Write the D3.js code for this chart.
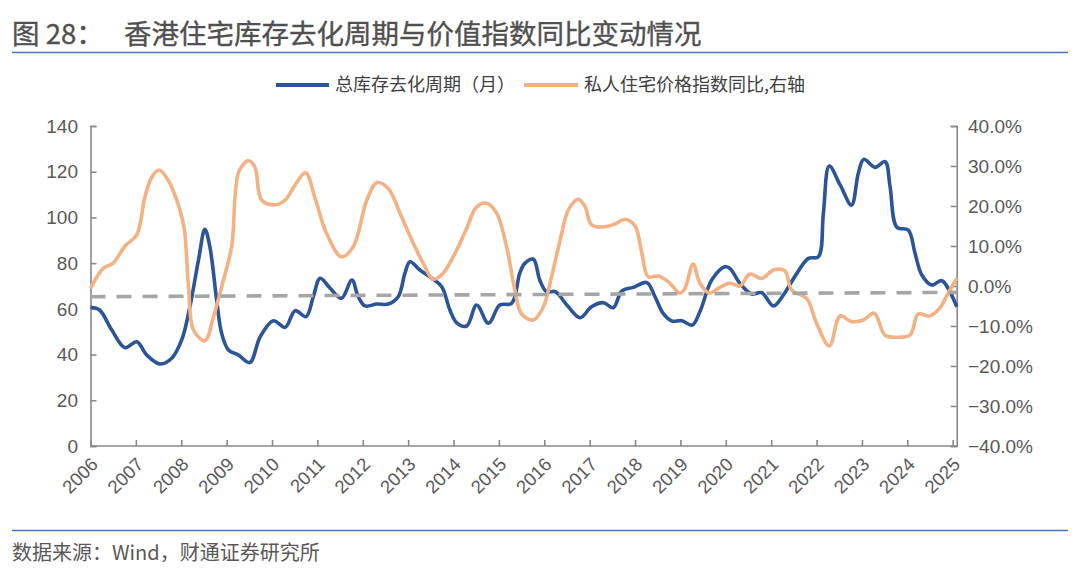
<!DOCTYPE html>
<html>
<head>
<meta charset="utf-8">
<script src="https://cdn.jsdelivr.net/npm/d3@7"></script>
<style>
  body { margin: 0; background: #fff; }
  text { font-family: "Liberation Sans", "Noto Sans CJK SC", sans-serif; }
  .cjk { font-family: "Noto Sans CJK SC", "Liberation Sans", sans-serif; }
</style>
</head>
<body>
<div id="chart"></div>
<script>
// total inventory clearance cycle (months), left axis
var blueYear = [2006.0, 2006.2, 2006.47, 2006.76, 2007.02, 2007.24, 2007.53, 2007.79, 2008.01, 2008.19,
  2008.38, 2008.52, 2008.63, 2008.78, 2008.89, 2009.04, 2009.26, 2009.51, 2009.74, 2010.03,
  2010.29, 2010.51, 2010.75, 2010.91, 2011.06, 2011.28, 2011.53, 2011.76, 2011.9, 2012.05,
  2012.31, 2012.56, 2012.78, 2012.93, 2013.04, 2013.26, 2013.52, 2013.74, 2013.92, 2014.07,
  2014.29, 2014.51, 2014.77, 2015.02, 2015.28, 2015.46, 2015.57, 2015.76, 2015.9, 2016.05,
  2016.24, 2016.53, 2016.79, 2017.04, 2017.3, 2017.52, 2017.71, 2017.96, 2018.26, 2018.44,
  2018.62, 2018.81, 2019.03, 2019.26, 2019.43, 2019.69, 2019.98, 2020.09, 2020.31, 2020.57,
  2020.79, 2021.05, 2021.27, 2021.52, 2021.82, 2022.04, 2022.15, 2022.28, 2022.52, 2022.77,
  2022.92, 2023.04, 2023.29, 2023.51, 2023.62, 2023.77, 2024.02, 2024.17, 2024.32, 2024.54,
  2024.76, 2025.09];
var blueValue = [60.7, 59.5, 50.7, 43.0, 45.6, 39.8, 35.9, 38.4, 46.4, 60.9,
  81.4, 94.8, 87.2, 63.9, 49.3, 42.0, 39.8, 36.5, 47.8, 54.8,
  51.9, 59.2, 56.6, 65.3, 73.4, 69.0, 64.6, 72.6, 65.3, 61.3,
  62.1, 62.1, 65.3, 75.6, 80.6, 77.0, 73.4, 69.7, 59.5, 53.9,
  52.5, 61.7, 53.7, 61.7, 62.4, 75.6, 79.9, 81.7, 72.6, 67.5,
  67.5, 60.9, 56.1, 60.9, 62.7, 60.5, 67.9, 69.4, 71.5, 65.3,
  58.0, 54.7, 54.8, 52.9, 58.8, 72.6, 78.4, 77.7, 71.2, 66.5,
  67.1, 61.3, 66.1, 74.1, 82.1, 82.8, 101.8, 122.5, 114.2, 105.4,
  119.3, 125.4, 121.9, 124.4, 113.4, 95.7, 94.5, 84.3, 74.8, 70.4,
  72.3, 60.9];

// private domestic price index YoY (%), right axis
var orangeYear = [2006.0, 2006.28, 2006.5, 2006.76, 2007.02, 2007.2, 2007.35, 2007.51, 2007.71, 2007.97,
  2008.07, 2008.16, 2008.27, 2008.52, 2008.71, 2008.93, 2009.11, 2009.27, 2009.48, 2009.62,
  2009.77, 2010.07, 2010.29, 2010.51, 2010.74, 2010.95, 2011.2, 2011.53, 2011.79, 2012.09,
  2012.31, 2012.56, 2012.82, 2013.08, 2013.33, 2013.55, 2013.77, 2014.07, 2014.29, 2014.51,
  2014.73, 2014.95, 2015.17, 2015.35, 2015.5, 2015.76, 2015.98, 2016.16, 2016.35, 2016.53,
  2016.75, 2016.9, 2017.04, 2017.34, 2017.56, 2017.78, 2018.0, 2018.15, 2018.29, 2018.51,
  2018.73, 2018.99, 2019.1, 2019.28, 2019.43, 2019.65, 2019.83, 2020.09, 2020.31, 2020.53,
  2020.79, 2021.05, 2021.3, 2021.45, 2021.78, 2022.0, 2022.28, 2022.52, 2022.77, 2023.03,
  2023.27, 2023.51, 2023.77, 2024.06, 2024.24, 2024.49, 2024.71, 2024.9, 2025.09];
var orangeValue = [-0.6, 4.4, 5.7, 10.0, 12.8, 22.3, 27.2, 29.0, 26.5, 19.0,
  14.0, -0.2, -11.0, -13.7, -7.7, 1.5, 9.8, 28.6, 31.3, 29.8,
  21.5, 20.3, 21.5, 25.3, 28.3, 21.9, 13.2, 7.3, 9.8, 21.5,
  25.8, 24.4, 18.2, 11.5, 5.7, 1.7, 3.2, 9.0, 14.4, 19.8,
  20.7, 18.2, 9.8, -1.0, -7.0, -8.5, -5.2, 2.3, 11.5, 19.0,
  21.7, 19.8, 15.3, 14.8, 15.5, 16.7, 15.0, 8.2, 2.3, 2.5,
  1.1, -1.8, -0.6, 5.5, 0.7, -1.8, -0.6, 0.7, 0.0, 3.0,
  1.9, 4.0, 3.8, -1.0, -3.1, -9.3, -15.0, -7.5, -8.9, -8.5,
  -6.8, -12.3, -12.8, -12.3, -7.0, -7.5, -5.6, -1.8, 1.9];

// linear trend of the clearance cycle (dashed)
var trendYear = [2006.0, 2025.09];
var trendValue = [65.3, 67.2];

var yearTicks = d3.range(2006, 2026);
var leftTicks = [0, 20, 40, 60, 80, 100, 120, 140];
var rightTicks = [-40, -30, -20, -10, 0, 10, 20, 30, 40];

var seriesNames = ["总库存去化周期（月）", "私人住宅价格指数同比,右轴"];
var titleNo = "图 28：";
var titleText = "香港住宅库存去化周期与价值指数同比变动情况";
var sourceText = "数据来源：Wind，财通证券研究所";

var width = 1080, height = 578;
var plot = {left: 90.5, right: 956.7, top: 126, bottom: 446};
var blue = "#2c5597", orange = "#f4b183", axisCol = "#898989", textCol = "#595959", ruleCol = "#4a78bb";

var svg = d3.select("#chart").append("svg")
  .attr("width", width)
  .attr("height", height)
  .style("display", "block");

// title and rules
[[12, titleNo], [124, titleText]].forEach(function(t) {
  svg.append("text").attr("class", "cjk")
    .attr("x", t[0]).attr("y", 43.5)
    .style("font-size", "27.5px").style("font-weight", 400).style("fill", "#505050")
    .style("stroke", "#505050").style("stroke-width", 0.35)
    .text(t[1]);
});
svg.append("line")
  .attr("x1", 12).attr("x2", 1068).attr("y1", 52.5).attr("y2", 52.5)
  .style("stroke", ruleCol).style("stroke-width", 1.6);
svg.append("line")
  .attr("x1", 12).attr("x2", 1068).attr("y1", 530.5).attr("y2", 530.5)
  .style("stroke", ruleCol).style("stroke-width", 1.6);
svg.append("text").attr("class", "cjk")
  .attr("x", 12).attr("y", 560)
  .style("font-size", "20px").style("fill", textCol)
  .text(sourceText);

// scales
var xScale = d3.scaleLinear().domain([2006, 2025]).range([90.5, 952.7]);
var yLeft = d3.scaleLinear().domain([0, 140]).range([plot.bottom, plot.top]);
var yRight = d3.scaleLinear().domain([-40, 40]).range([plot.bottom, plot.top]);

// axes
var gx = svg.append("g")
  .attr("transform", "translate(0," + plot.bottom + ")")
  .call(d3.axisTop(xScale).tickValues(yearTicks).tickSize(6).tickFormat(""));
gx.select(".domain").attr("d", "M" + plot.left + ",0H" + plot.right);

var gl = svg.append("g")
  .attr("transform", "translate(" + plot.left + ",0)")
  .call(d3.axisRight(yLeft).tickValues(leftTicks).tickSize(6).tickFormat(""));

var gr = svg.append("g")
  .attr("transform", "translate(" + plot.right + ",0)")
  .call(d3.axisLeft(yRight).tickValues(rightTicks).tickSize(6).tickFormat(""));

[gx, gl, gr].forEach(function(g) {
  g.selectAll("path, line").style("stroke", axisCol).style("stroke-width", 1.6);
});

// tick labels
svg.append("g").selectAll("text")
  .data(leftTicks).enter().append("text")
  .attr("x", 78).attr("y", function(d) { return yLeft(d); })
  .attr("dy", "0.35em").attr("text-anchor", "end")
  .style("font-size", "19px").style("fill", textCol)
  .text(function(d) { return d; });

var pct = d3.format(".1f");
svg.append("g").selectAll("text")
  .data(rightTicks).enter().append("text")
  .attr("x", 968).attr("y", function(d) { return yRight(d); })
  .attr("dy", "0.35em").attr("text-anchor", "start")
  .style("font-size", "19px").style("fill", textCol)
  .text(function(d) { return pct(d) + "%"; });

svg.append("g").selectAll("text")
  .data(yearTicks).enter().append("text")
  .attr("transform", function(d) { return "translate(" + (xScale(d) + 4) + ",461) rotate(-45)"; })
  .attr("dy", "0.35em").attr("text-anchor", "end")
  .style("font-size", "18.5px").style("fill", textCol)
  .text(function(d) { return d; });

// lines
var blueData = blueYear.map(function(t, i) { return [t, blueValue[i]]; });
var orangeData = orangeYear.map(function(t, i) { return [t, orangeValue[i]]; });
var trendData = trendYear.map(function(t, i) { return [t, trendValue[i]]; });

var lineLeft = d3.line()
  .x(function(d) { return xScale(d[0]); })
  .y(function(d) { return yLeft(d[1]); })
  .curve(d3.curveCatmullRom.alpha(0.5));
var lineRight = d3.line()
  .x(function(d) { return xScale(d[0]); })
  .y(function(d) { return yRight(d[1]); })
  .curve(d3.curveCatmullRom.alpha(0.5));

svg.append("path").datum(blueData)
  .attr("d", lineLeft)
  .style("fill", "none").style("stroke", blue).style("stroke-width", 3.6)
  .style("stroke-linejoin", "round");

svg.append("path").datum(orangeData)
  .attr("d", lineRight)
  .style("fill", "none").style("stroke", orange).style("stroke-width", 3.6)
  .style("stroke-linejoin", "round");

svg.append("path").datum(trendData)
  .attr("d", d3.line().x(function(d) { return xScale(d[0]); }).y(function(d) { return yLeft(d[1]); }))
  .style("fill", "none").style("stroke", "#a6a6a6").style("stroke-width", 3.6)
  .style("stroke-dasharray", "15,11");

// legend
var legend = svg.append("g");
var legendItems = [
  {name: seriesNames[0], color: blue, x1: 276, x2: 329, tx: 335},
  {name: seriesNames[1], color: orange, x1: 524, x2: 578, tx: 584}
];
legendItems.forEach(function(it) {
  legend.append("line")
    .attr("x1", it.x1).attr("x2", it.x2).attr("y1", 85).attr("y2", 85)
    .style("stroke", it.color).style("stroke-width", 4);
  legend.append("text").attr("class", "cjk")
    .attr("x", it.tx).attr("y", 85).attr("dy", "0.35em")
    .style("font-size", "18px").style("fill", "#404040")
    .text(it.name);
});
</script>
</body>
</html>
